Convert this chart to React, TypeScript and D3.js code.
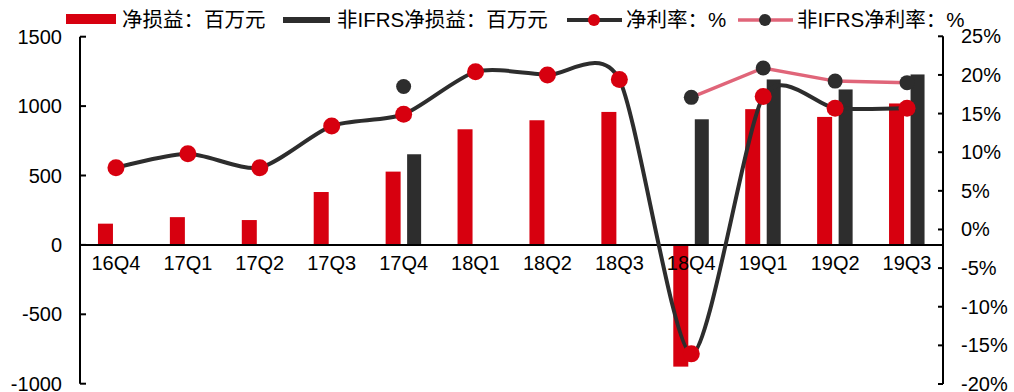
import React from "react";
import * as d3 from "d3";

const categories = ["16Q4", "17Q1", "17Q2", "17Q3", "17Q4", "18Q1", "18Q2", "18Q3", "18Q4", "19Q1", "19Q2", "19Q3"];
const netProfit: (number | null)[] = [153, 200, 179, 381, 528, 833, 898, 958, -877, 978, 922, 1019];
const nonIfrsProfit: (number | null)[] = [null, null, null, null, 653, null, null, null, 905, 1192, 1120, 1228];
const netMargin: (number | null)[] = [8.0, 9.8, 8.0, 13.4, 14.9, 20.4, 20.0, 19.4, -16.1, 17.2, 15.7, 15.7];
const nonIfrsMargin: (number | null)[] = [null, null, null, null, 18.5, null, null, null, 17.1, 20.9, 19.2, 19.0];
const leftTicks = [-1000, -500, 0, 500, 1000, 1500];
const rightTicks = [-20, -15, -10, -5, 0, 5, 10, 15, 20, 25];
const legendLabels = ["净损益：百万元", "非IFRS净损益：百万元", "净利率：%", "非IFRS净利率：%"];

const RED = "#d7000f";
const DARK = "#2d2d2d";
const PINK = "#e06579";
const FONT = "'Liberation Sans', Arial, 'Noto Sans CJK SC', sans-serif";
const AXFS = 20;
const LGFS = 20.5;

export default function App() {
  const W = 1014, H = 392;
  const x0 = 80, x1 = 943;
  const x = d3.scaleBand<string>().domain(categories).range([x0, x1]).padding(0);
  const yL = d3.scaleLinear().domain([-1000, 1500]).range([383.7, 36.7]);
  const yR = d3.scaleLinear().domain([-20, 25]).range([384, 36.3]);
  const cx = (c: string) => (x(c) as number) + x.bandwidth() / 2;

  const netLine = d3
    .line<number | null>()
    .x((_, i) => cx(categories[i]))
    .y((d) => yR(d as number))
    .curve(d3.curveCardinal.tension(0.25));
  const nonLine = d3
    .line<number | null>()
    .defined((d) => d !== null)
    .x((_, i) => cx(categories[i]))
    .y((d) => yR(d as number));

  const zeroY = yL(0);

  return (
    <svg width={W} height={H} style={{ position: "absolute", left: 0, top: 0, background: "#fff" }} fontFamily={FONT}>
      {/* bars */}
      {categories.map((c, i) => {
        const v = netProfit[i];
        if (v === null) return null;
        const y = Math.min(yL(v), zeroY);
        return <rect key={"r" + c} x={cx(c) - 18} y={y} width={15} height={Math.abs(yL(v) - zeroY)} fill={RED} />;
      })}
      {categories.map((c, i) => {
        const v = nonIfrsProfit[i];
        if (v === null) return null;
        const y = Math.min(yL(v), zeroY);
        return <rect key={"b" + c} x={cx(c) + 3.5} y={y} width={14} height={Math.abs(yL(v) - zeroY)} fill={DARK} />;
      })}

      {/* zero line */}
      <line x1={x0} x2={x1} y1={zeroY} y2={zeroY} stroke="#000" strokeWidth={2} />

      {/* left axis */}
      <line x1={x0} x2={x0} y1={yL(1500)} y2={yL(-1000)} stroke="#000" strokeWidth={2} />
      {leftTicks.map((t) => (
        <g key={"lt" + t}>
          <line x1={x0} x2={x0 + 6} y1={yL(t)} y2={yL(t)} stroke="#000" strokeWidth={2} />
          <text x={62} y={yL(t)} dy="0.35em" textAnchor="end" fontSize={AXFS} fill="#000">
            {t}
          </text>
        </g>
      ))}

      {/* right axis */}
      <line x1={x1} x2={x1} y1={yR(25)} y2={yR(-20)} stroke="#000" strokeWidth={2} />
      {rightTicks.map((t) => (
        <g key={"rt" + t}>
          <line x1={x1 - 5} x2={x1} y1={yR(t)} y2={yR(t)} stroke="#000" strokeWidth={2} />
          <text x={961} y={yR(t)} dy="0.35em" textAnchor="start" fontSize={AXFS} fill="#000">
            {t + "%"}
          </text>
        </g>
      ))}

      {/* category labels */}
      {categories.map((c) => (
        <text key={"c" + c} x={cx(c)} y={270} textAnchor="middle" fontSize={AXFS} fill="#000">
          {c}
        </text>
      ))}

      {/* net margin line */}
      <path d={netLine(netMargin) || ""} fill="none" stroke={DARK} strokeWidth={4} />
      {categories.map((c, i) => {
        const v = netMargin[i];
        if (v === null) return null;
        return <circle key={"nm" + c} cx={cx(c)} cy={yR(v)} r={8.5} fill={RED} />;
      })}

      {/* non-IFRS margin line */}
      <path d={nonLine(nonIfrsMargin) || ""} fill="none" stroke={PINK} strokeWidth={3.5} />
      {categories.map((c, i) => {
        const v = nonIfrsMargin[i];
        if (v === null) return null;
        return <circle key={"nn" + c} cx={cx(c)} cy={yR(v)} r={7.5} fill={DARK} />;
      })}

      {/* legend */}
      <rect x={66} y={14} width={50} height={10} fill={RED} />
      <text x={122} y={27} fontSize={LGFS} fill="#000">{legendLabels[0]}</text>
      <rect x={283} y={17} width={47} height={6} fill={DARK} />
      <text x={337} y={27} fontSize={LGFS} fill="#000">{legendLabels[1]}</text>
      <line x1={567} x2={622} y1={20} y2={20} stroke={DARK} strokeWidth={4} />
      <circle cx={594} cy={20} r={6} fill={RED} />
      <text x={626} y={27} fontSize={LGFS} fill="#000">{legendLabels[2]}</text>
      <line x1={738} x2={793} y1={20} y2={20} stroke={PINK} strokeWidth={3.5} />
      <circle cx={765} cy={20} r={6} fill={DARK} />
      <text x={797} y={27} fontSize={LGFS} fill="#000">{legendLabels[3]}</text>
    </svg>
  );
}
